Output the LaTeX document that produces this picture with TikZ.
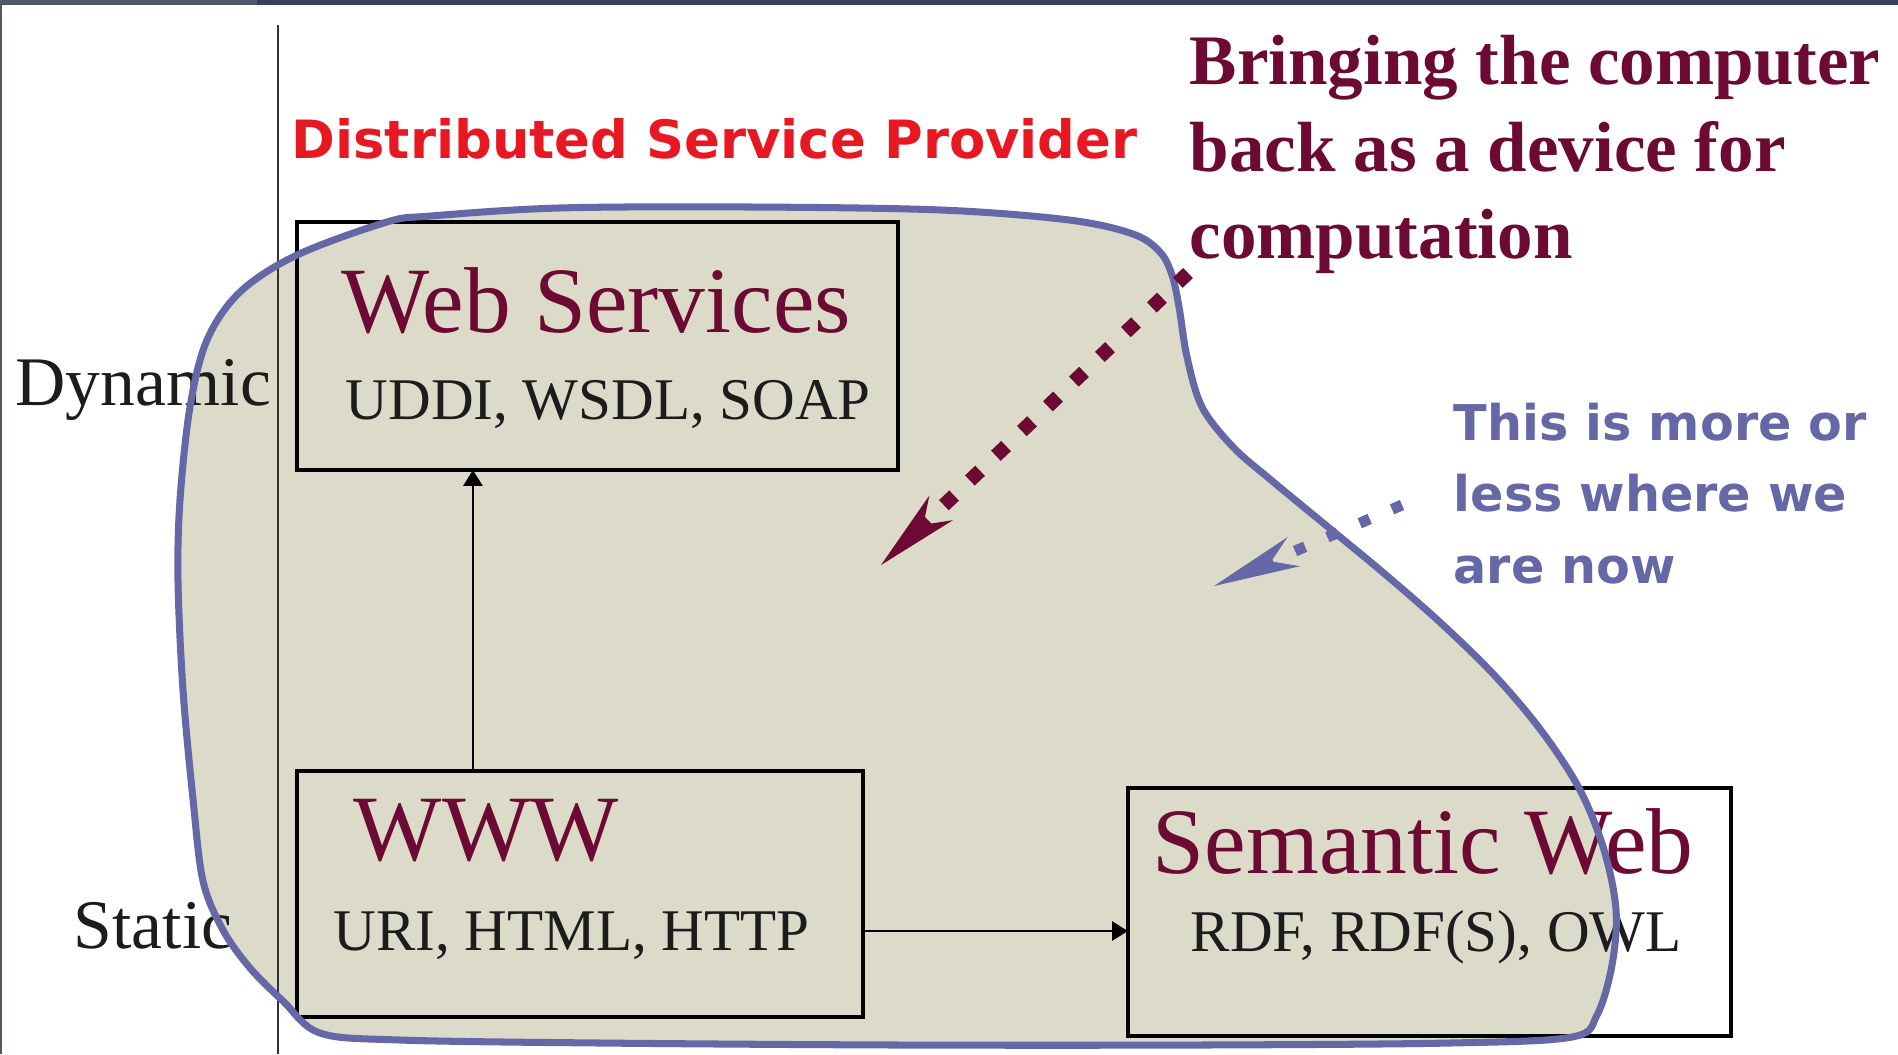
\documentclass[tikz,border=0pt]{standalone}
\usepackage{fontspec}
\setmainfont{Liberation Serif}
\newfontfamily\sansbold{DejaVu Sans}
\usetikzlibrary{arrows.meta,positioning}

\definecolor{wine}{RGB}{108,10,52}
\definecolor{provred}{RGB}{232,24,34}
\definecolor{blobfill}{RGB}{220,219,201}
\definecolor{blobline}{RGB}{101,104,166}
\definecolor{inktext}{RGB}{28,28,28}
\definecolor{barleft}{RGB}{78,90,106}
\definecolor{barright}{RGB}{50,64,94}

% outline of the provider area (pixel coordinates)
\newcommand{\blobpath}{plot[smooth cycle, tension=0.55] coordinates {
  (240,292) (297,255) (387,222) (431,216) (559,208) (750,207) (941,210)
  (1069,220) (1133,234) (1160,252) (1172,275) (1179,307) (1187,357)
  (1202,407) (1233,447) (1271,480) (1328,527) (1386,575) (1443,625)
  (1497,678) (1543,733) (1580,790) (1604,850) (1616,910) (1612,965)
  (1597,1015) (1572,1037) (1450,1043) (1200,1045) (900,1045) (600,1043)
  (400,1040) (320,1033) (283,1001) (250,968) (223,930) (203,881)
  (193,799) (183,690) (178,581) (180,500) (190,407) (207,340)}}

\begin{document}
\begin{tikzpicture}[x=0.01cm, y=-0.01cm,
    techbox/.style={draw=black, line width=1.2pt, inner sep=0pt, outer sep=0pt},
    boxtitle/.style={text=wine, font=\fontsize{26.6}{30}\selectfont, inner sep=0pt, anchor=base west},
    boxstack/.style={text=inktext, font=\fontsize{16.8}{20}\selectfont, inner sep=0pt, anchor=base west},
    axislab/.style={text=inktext, font=\fontsize{19.8}{23}\selectfont, inner sep=0pt, anchor=base west},
    flow/.style={-{Triangle[length=4.5pt,width=5.5pt]}, line width=0.5pt, black}
]
    \useasboundingbox (0,0) rectangle (1898,1054);

    % slide frame
    \fill[barleft] (0,0) rectangle (257,5);
    \fill[barright] (257,0) rectangle (1898,5);
    \fill[barleft] (0,0) rectangle (2,1054);

    % provider area
    \fill[blobfill] \blobpath;

    % axis
    \draw[line width=0.4pt, black!80] (278,25) -- (278,1054);
    \node[axislab] (dyn) at (15,405) {Dynamic};
    \node[axislab] (stat) at (73,948) {Static};

    % boxes
    \node[techbox, minimum width=6.01cm, minimum height=2.48cm] (ws) at (597.5,346) {};
    \node[techbox, minimum width=5.66cm, minimum height=2.46cm] (www) at (580,894) {};
    \node[techbox, minimum width=6.03cm, minimum height=2.48cm] (sw) at (1429.5,912) {};

    \node[boxtitle] (wstitle) at (341,332) {Web Services};
    \node[boxstack] (wsstack) at (345,419) {UDDI, WSDL, SOAP};
    \node[boxtitle] (wwwtitle) at (353,860) {WWW};
    \node[boxstack] (wwwstack) at (333,950) {URI, HTML, HTTP};
    \node[boxtitle] (swtitle) at (1152,873) {Semantic Web};
    \node[boxstack] (swstack) at (1190,951) {RDF, RDF(S), OWL};

    % arrows
    \draw[flow] ([xshift=-1.07cm]www.north) -- ([xshift=-1.07cm]www.north |- ws.south);
    \draw[flow] ([yshift=-0.37cm]www.east) -- ([yshift=-0.37cm]www.east -| sw.west);

    % outline on top
    \draw[blobline, line width=2pt] \blobpath;

    % annotations
    \node[text=provred, font=\sansbold\bfseries\fontsize{15}{18}\selectfont,
          inner sep=0pt, anchor=base west] (provider) at (291,158) {Distributed Service Provider};
    \node[text=wine, font=\bfseries\fontsize{20.2}{24.6}\selectfont, align=left,
          inner sep=0pt, anchor=base west] (bring) at (1189,258)
          {Bringing the computer\\back as a device for\\computation};
    \node[text=blobline, font=\sansbold\bfseries\fontsize{14}{20.2}\selectfont, align=left,
          inner sep=0pt, anchor=base west] (now) at (1453,583)
          {This is more or\\less where we\\are now};

    \coordinate (bringtail) at (1188,273);
    \coordinate (bringtip) at (881,565);
    \coordinate (nowtail) at (1402,505);
    \coordinate (nowtip) at (1214,586);

    \draw[wine, line width=4pt, line cap=butt, dash pattern=on 4pt off 6.2pt,
          -{Stealth[length=23.6pt,width=9.7pt,inset=7pt,line width=0pt]}] (bringtail) -- (bringtip);
    \draw[blobline, line width=3.1pt, line cap=butt, dash pattern=on 3.1pt off 6.9pt,
          -{Stealth[length=24.7pt,width=9pt,inset=7pt,line width=0pt]}] (nowtail) -- (nowtip);
\end{tikzpicture}
\end{document}
